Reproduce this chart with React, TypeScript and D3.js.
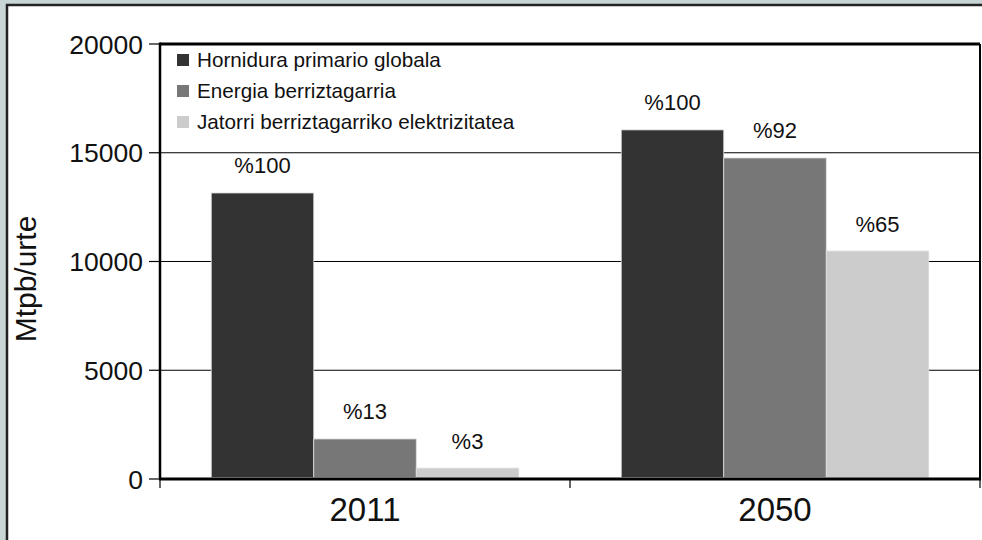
import React from "react";
import * as d3 from "d3";

const categories = ["2011", "2050"];
const seriesNames = [
  "Hornidura primario globala",
  "Energia berriztagarria",
  "Jatorri berriztagarriko elektrizitatea",
];
const seriesColors = ["#333333", "#777777", "#cccccc"];
const values2011 = [13150, 1840, 500];
const values2050 = [16050, 14760, 10480];
const labels2011 = ["%100", "%13", "%3"];
const labels2050 = ["%100", "%92", "%65"];
const yTicks = [0, 5000, 10000, 15000, 20000];
const yTitle = "Mtpb/urte";

const W = 982;
const H = 540;
const FONT = "'Liberation Sans', Arial, sans-serif";

export default function App() {
  const left = 160, right = 980, top = 44, bottom = 479;
  const y = d3.scaleLinear().domain([0, 20000]).range([bottom, top]);
  const x = d3
    .scaleBand<string>()
    .domain(categories)
    .range([left, right])
    .paddingInner(0.25)
    .paddingOuter(0.125);
  const xs = d3
    .scaleBand<string>()
    .domain(seriesNames)
    .range([0, x.bandwidth()])
    .padding(0);

  const groups = [
    { cat: categories[0], vals: values2011, labels: labels2011 },
    { cat: categories[1], vals: values2050, labels: labels2050 },
  ];

  const step = x.step();
  const xTickPositions = [left, left + step, right];

  return (
    <svg
      width={W}
      height={H}
      style={{ position: "absolute", left: 0, top: 0, display: "block" }}
      fontFamily={FONT}
    >
      <rect x={0} y={0} width={W} height={H} fill="#c7d5d5" />
      <rect x={7} y={5} width={W + 20} height={H + 20} fill="#ffffff" stroke="#222222" strokeWidth={2.5} />

      {/* grid lines */}
      {yTicks
        .filter((t) => t > 0 && t < 20000)
        .map((t) => (
          <line key={"g" + t} x1={left} x2={right} y1={y(t)} y2={y(t)} stroke="#000" strokeWidth={1.2} />
        ))}

      {/* bars */}
      {groups.map((g) =>
        g.vals.map((v, i) => {
          const bx = (x(g.cat) as number) + (xs(seriesNames[i]) as number);
          return (
            <rect
              key={g.cat + i}
              x={bx}
              y={y(v)}
              width={xs.bandwidth()}
              height={bottom - y(v) - 1.5}
              fill={seriesColors[i]}
              stroke="#dddddd"
              strokeWidth={0.8}
            />
          );
        })
      )}

      {/* data labels */}
      {groups.map((g) =>
        g.vals.map((v, i) => {
          const cx = (x(g.cat) as number) + (xs(seriesNames[i]) as number) + xs.bandwidth() / 2;
          return (
            <text key={"l" + g.cat + i} x={cx} y={y(v) - 19.5} textAnchor="middle" fontSize={22} fill="#111">
              {g.labels[i]}
            </text>
          );
        })
      )}

      {/* plot frame */}
      <line x1={left} x2={right} y1={top} y2={top} stroke="#000" strokeWidth={3} />
      <line x1={right} x2={right} y1={top} y2={bottom} stroke="#000" strokeWidth={2} />
      <line x1={left} x2={left} y1={top - 1.5} y2={bottom} stroke="#000" strokeWidth={2.5} />
      <line x1={left - 1} x2={right + 1} y1={bottom} y2={bottom} stroke="#000" strokeWidth={3} />

      {/* y ticks */}
      {yTicks.map((t) => (
        <g key={"t" + t}>
          <line x1={left - 11} x2={left} y1={y(t)} y2={y(t)} stroke="#000" strokeWidth={1.2} />
          <text x={143} y={y(t)} dy="0.36em" textAnchor="end" fontSize={26.5} fill="#111">
            {t}
          </text>
        </g>
      ))}

      {/* x ticks */}
      {xTickPositions.map((p, i) => (
        <line key={"xt" + i} x1={p} x2={p} y1={bottom} y2={bottom + 9} stroke="#000" strokeWidth={1.2} />
      ))}
      {categories.map((c) => (
        <text
          key={"c" + c}
          x={(x(c) as number) + x.bandwidth() / 2}
          y={521}
          textAnchor="middle"
          fontSize={33}
          fill="#111"
        >
          {c}
        </text>
      ))}

      {/* y title */}
      <text transform={`translate(36,279) rotate(-90)`} textAnchor="middle" fontSize={30} fill="#111">
        {yTitle}
      </text>

      {/* legend */}
      {seriesNames.map((s, i) => (
        <g key={"lg" + i} transform={`translate(177, ${60 + i * 31})`}>
          <rect x={0} y={-6} width={12} height={12} fill={seriesColors[i]} />
          <text x={20} y={0} dy="0.36em" fontSize={20.7} fill="#111">
            {s}
          </text>
        </g>
      ))}
    </svg>
  );
}
